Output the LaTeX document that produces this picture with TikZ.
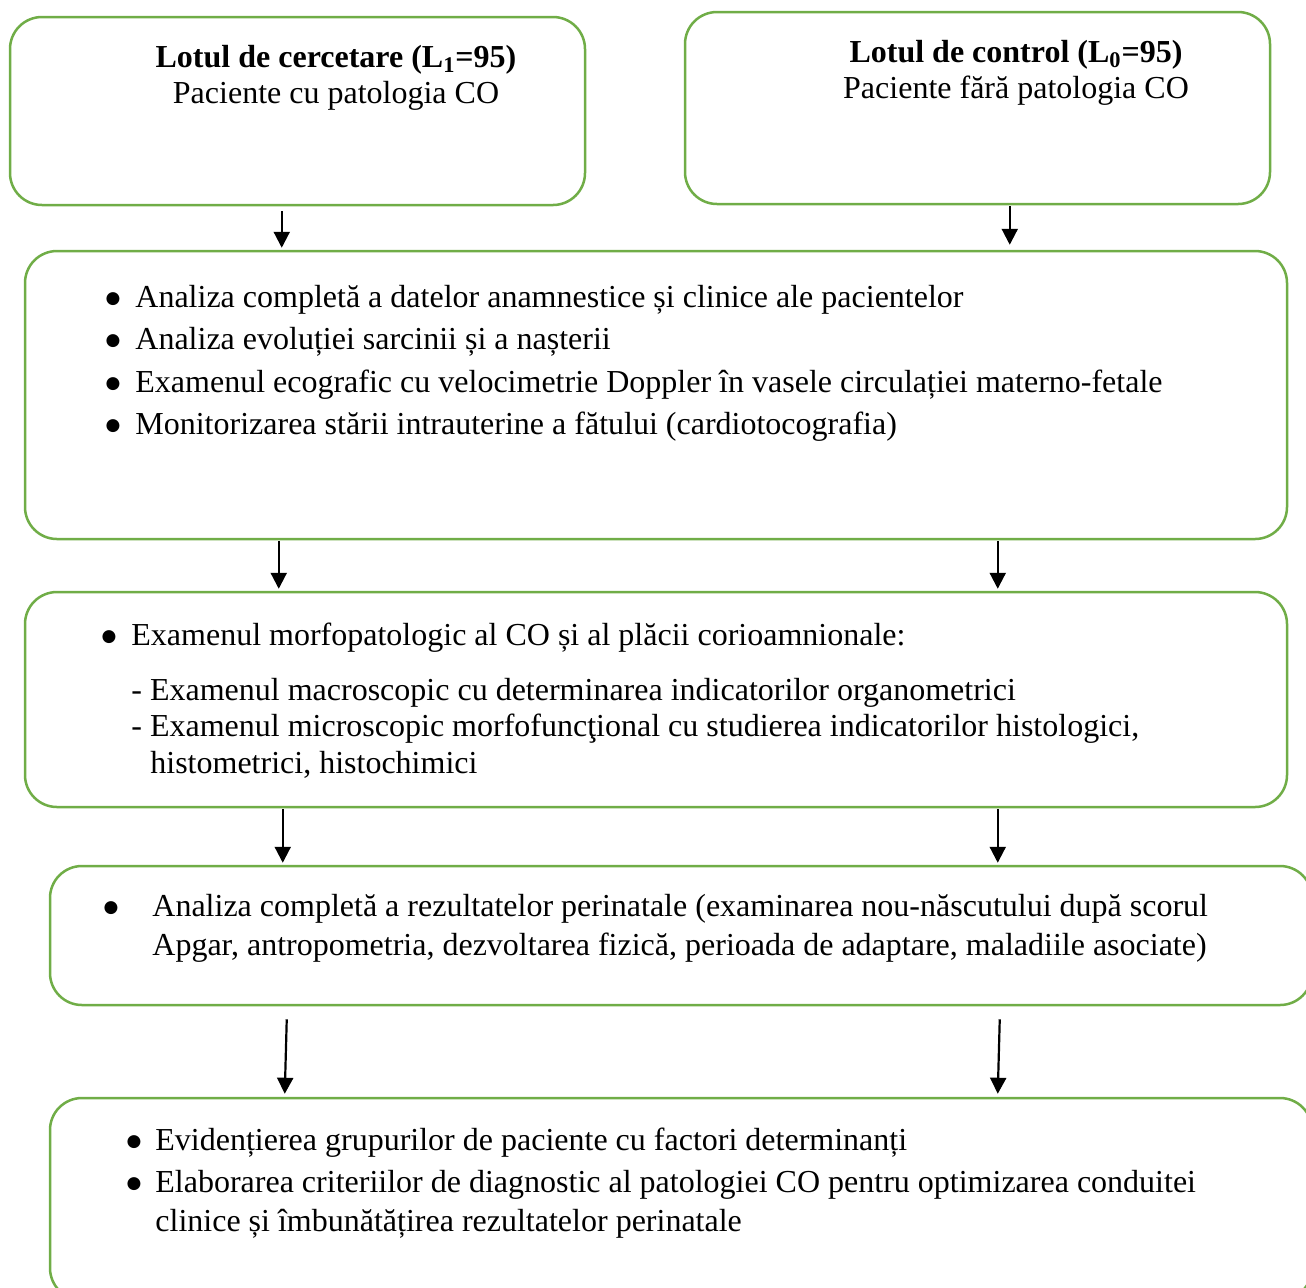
\documentclass[tikz,border=0pt]{standalone}
\usepackage{fontspec}
\setmainfont{Liberation Serif}
\newfontfamily\symfont{DejaVu Sans}
\usetikzlibrary{fit,calc,arrows.meta}
\definecolor{boxgreen}{HTML}{70AD47}
\tikzset{
  box/.style={draw=boxgreen, line width=1.25pt, rounded corners=16pt, inner sep=0pt, fill=none},
  txt/.style={anchor=base west, inner sep=0pt, font=\fontsize{16pt}{19pt}\selectfont},
  ctxt/.style={anchor=base, inner sep=0pt, font=\fontsize{16pt}{19pt}\selectfont},
  bul/.style={anchor=base, inner sep=0pt, yshift=2pt, font=\symfont\fontsize{8.5pt}{9pt}\selectfont},
  arr/.style={line width=1.1pt, -{Triangle[width=8pt,length=8pt]}}
}
\begin{document}
\begin{tikzpicture}[x=0.5pt,y=-0.5pt]
\useasboundingbox (0,0) rectangle (1306,1287);
% boxes
\node[box, fit={(10,17) (585,205)}] (b1) {};
\node[box, fit={(685,12) (1270,204)}] (b2) {};
\node[box, fit={(25,251) (1287,539)}] (b3) {};
\node[box, fit={(25,592) (1287,807)}] (b4) {};
\node[box, fit={(50,866) (1312,1005)}] (b5) {};
\node[box, fit={(50,1098) (1312,1300)}] (b6) {};
% box 1
\node[ctxt] (t1a) at (336,67) {\textbf{Lotul de cercetare (L\textsubscript{1}=95)}};
\node[ctxt] (t1b) at (336,103) {Paciente cu patologia CO};
% box 2
\node[ctxt] (t2a) at (1016,62) {\textbf{Lotul de control (L\textsubscript{0}=95)}};
\node[ctxt] (t2b) at (1016,98) {Paciente fără patologia CO};
% box 3
\node[bul] (p3a) at (113,307) {●};
\node[txt] (t3a) at (135,307) {Analiza completă a datelor anamnestice și clinice ale pacientelor};
\node[bul] (p3b) at (113,349) {●};
\node[txt] (t3b) at (135,349) {Analiza evoluției sarcinii și a nașterii};
\node[bul] (p3c) at (113,392) {●};
\node[txt] (t3c) at (135,392) {Examenul ecografic cu velocimetrie Doppler în vasele circulației materno-fetale};
\node[bul] (p3d) at (113,434) {●};
\node[txt] (t3d) at (135,434) {Monitorizarea stării intrauterine a fătului (cardiotocografia)};
% box 4
\node[bul] (p4a) at (109,645) {●};
\node[txt] (t4a) at (131,645) {Examenul morfopatologic al CO și al plăcii corioamnionale:};
\node[txt] (t4b) at (131,700) {- Examenul macroscopic cu determinarea indicatorilor organometrici};
\node[txt] (t4c) at (131,736) {- Examenul microscopic morfofuncţional cu studierea indicatorilor histologici,};
\node[txt] (t4d) at (150,773) {histometrici, histochimici};
% box 5
\node[bul] (p5a) at (111,916) {●};
\node[txt] (t5a) at (152,916) {Analiza completă a rezultatelor perinatale (examinarea nou-născutului după scorul};
\node[txt] (t5b) at (152,955) {Apgar, antropometria, dezvoltarea fizică, perioada de adaptare, maladiile asociate)};
% box 6
\node[bul] (p6a) at (134,1150) {●};
\node[txt] (t6a) at (155,1150) {Evidențierea grupurilor de paciente cu factori determinanți};
\node[bul] (p6b) at (134,1192) {●};
\node[txt] (t6b) at (155,1192) {Elaborarea criteriilor de diagnostic al patologiei CO pentru optimizarea conduitei};
\node[txt] (t6c) at (155,1231) {clinice și îmbunătățirea rezultatelor perinatale};
% arrows
\draw[arr] ($(b1.south west)+(273,5)$) -- ($(b3.north west)+(258,-2)$);
\draw[arr] ($(b2.south west)+(326,1)$) -- ($(b3.north west)+(986,-5)$);
\draw[arr] ($(b3.south west)+(255,1)$) -- ($(b4.north west)+(255,-2)$);
\draw[arr] ($(b3.south west)+(974,1)$) -- ($(b4.north west)+(974,-2)$);
\draw[arr] ($(b4.south west)+(259,1)$) -- ($(b5.north west)+(234,-2)$);
\draw[arr] ($(b4.south west)+(974,1)$) -- ($(b5.north west)+(949,-2)$);
\draw[arr] ($(b5.south west)+(238,13)$) -- ($(b6.north west)+(236,-3)$);
\draw[arr] ($(b5.south west)+(951,13)$) -- ($(b6.north west)+(949,-3)$);
\end{tikzpicture}
\end{document}
